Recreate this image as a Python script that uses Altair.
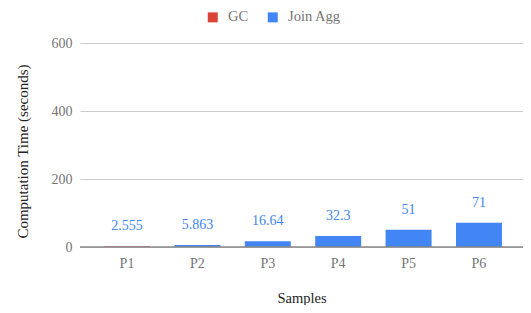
import altair as alt
import pandas as pd

categories = ["P1", "P2", "P3", "P4", "P5", "P6"]
values = [2.555, 5.863, 16.64, 32.3, 51, 71]
labels = ["2.555", "5.863", "16.64", "32.3", "51", "71"]
series = ["GC", "Join Agg", "Join Agg", "Join Agg", "Join Agg", "Join Agg"]
series_names = ["GC", "Join Agg"]
series_colors = ["#db4437", "#4285f4"]
y_ticks = [0, 200, 400, 600]

df = pd.DataFrame({"sample": categories, "time": values, "label": labels, "series": series})
zero_df = pd.DataFrame({"z": [0]})

FONT = "Liberation Serif"
FS = 14

x_enc = alt.X(
    "sample:N",
    sort=categories,
    title="Samples",
    scale=alt.Scale(paddingInner=0.347, paddingOuter=0.32, align=0.533),
    axis=alt.Axis(
        labelAngle=0, ticks=False, domain=False, labelPadding=9,
        labelFont=FONT, labelFontSize=FS, labelColor="#757575",
        titleFont=FONT, titleFontSize=14.5, titleFontWeight="normal", titleColor="#222222",
        titleBaseline="alphabetic", titleY=55,
    ),
)
y_enc = alt.Y(
    "time:Q",
    title="Computation Time (seconds)",
    scale=alt.Scale(domain=[0, 600], nice=False),
    axis=alt.Axis(
        values=y_ticks, ticks=False, domain=False, labelPadding=8,
        labelFont=FONT, labelFontSize=FS, labelColor="#757575",
        gridColor="#cccccc",
        titleFont=FONT, titleFontSize=15, titleFontWeight="normal", titleColor="#222222",
        titleAngle=-90, titleAlign="center", titleBaseline="middle",
        titleX=-58, titleY=108,
    ),
)

bars = alt.Chart(df).mark_bar().encode(
    x=x_enc,
    y=y_enc,
    color=alt.Color(
        "series:N",
        scale=alt.Scale(domain=series_names, range=series_colors),
        legend=alt.Legend(
            title=None, orient="none", direction="horizontal",
            legendX=125.5, legendY=-33, padding=0,
            symbolType="square", symbolSize=100, symbolStrokeWidth=0,
            labelFont=FONT, labelFontSize=14.5, labelColor="#757575",
            labelOffset=8, columnPadding=17,
        ),
    ),
)

text = alt.Chart(df).mark_text(
    dy=-20, baseline="middle", color="#4285f4", font=FONT, fontSize=FS
).encode(x=alt.X("sample:N", sort=categories), y="time:Q", text="label:N")

zero = alt.Chart(zero_df).mark_rule(color="#888888", strokeWidth=1.5).encode(y="z:Q")

chart = (bars + text + zero).properties(
    width=443, height=204,
    autosize=alt.AutoSizeParams(type="none"),
    padding={"left": 72, "top": 35, "right": 0, "bottom": 58},
).configure_view(stroke=None)

chart.save("out.html", embed_options={"renderer": "svg", "actions": False})
